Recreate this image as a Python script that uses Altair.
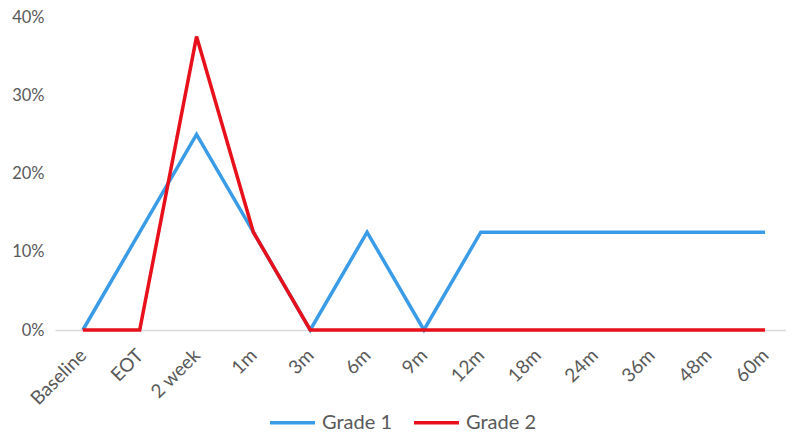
import altair as alt
import pandas as pd

timepoints = ["Baseline", "EOT", "2 week", "1m", "3m", "6m", "9m", "12m", "18m", "24m", "36m", "48m", "60m"]
grade1 = [0, 12.5, 25, 12.5, 0, 12.5, 0, 12.5, 12.5, 12.5, 12.5, 12.5, 12.5]
grade2 = [0, 0, 37.5, 12.5, 0, 0, 0, 0, 0, 0, 0, 0, 0]
series = ["Grade 1", "Grade 2"]
colors = ["#3A9BE6", "#E8101A"]

rows = []
for s, vals in zip(series, [grade1, grade2]):
    for t, v in zip(timepoints, vals):
        rows.append({"time": t, "value": v / 100.0, "series": s})
df = pd.DataFrame(rows)

font = "Lato"
chart = alt.Chart(df).mark_line(strokeWidth=3.5, strokeJoin="miter").encode(
    x=alt.X("time:N", sort=timepoints, title=None,
            scale=alt.Scale(type="point", padding=0.43, align=0.57),
            axis=alt.Axis(labelAngle=-45, labelAlign="right", labelBaseline="middle",
                          labelFontSize=19, labelColor="#595959", labelFont=font,
                          ticks=False, domainColor="#D9D9D9", domainWidth=1.5,
                          labelPadding=22, grid=False)),
    y=alt.Y("value:Q", title=None,
            scale=alt.Scale(domain=[0, 0.4]),
            axis=alt.Axis(format=".0%", values=[0, 0.1, 0.2, 0.3, 0.4],
                          labelFontSize=16.5, labelColor="#595959", labelFont=font,
                          ticks=False, domain=False, grid=False, labelPadding=11)),
    color=alt.Color("series:N", scale=alt.Scale(domain=series, range=colors),
                    legend=alt.Legend(title=None, orient="none", direction="horizontal",
                                      legendX=213, legendY=381,
                                      symbolType="stroke", symbolSize=2025, symbolStrokeWidth=3.5,
                                      labelFontSize=20, labelColor="#595959", labelFont=font,
                                      columnPadding=15, labelOffset=5)),
    order=alt.Order("series:N"),
).properties(
    width=731, height=313,
    autosize=alt.AutoSizeParams(type="none"),
    padding={"left": 47, "top": 9, "right": 0, "bottom": 102},
).configure_view(stroke=None)

chart.save("out.html", embed_options={"renderer": "svg", "actions": False})
